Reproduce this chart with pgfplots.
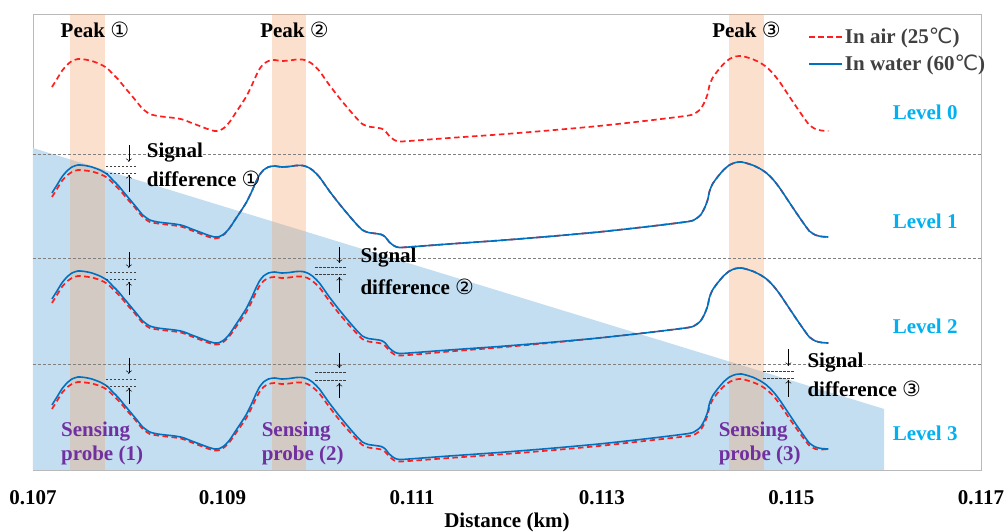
\documentclass[border=0pt]{standalone}
\usepackage{fontspec}
\setmainfont{Liberation Serif}
\newfontfamily\sym{DejaVu Sans}
\usepackage{pgfplots}
\pgfplotsset{compat=1.18}
\usepackage{pgfplotstable}
\usetikzlibrary{arrows.meta}
\definecolor{airred}{RGB}{255,30,30}
\definecolor{waterblue}{RGB}{0,112,192}
\definecolor{regionblue}{RGB}{195,222,240}
\definecolor{bandorange}{RGB}{246,166,115}
\definecolor{levelblue}{RGB}{0,176,240}
\definecolor{probepurple}{RGB}{112,48,160}
\definecolor{legtext}{RGB}{64,64,64}
\newcommand\bigfont{\fontsize{21}{25}\selectfont\bfseries}
\newcommand\symb[1]{{\sym\mdseries #1}}

\pgfplotstableread{
x L0 b1 r1 b2 r2 b3 r3
0.107200 383 277 273 171 167 65 61
0.107253 391 285 281 179 175 73 69
0.107305 399 293 289 187 183 81 77
0.107358 405 299 294.5 193 188.5 87 82.5
0.107411 409 303 298 197 192 91 86
0.107474 411 305 300 199 194 93 88
0.107547 410.5 304.5 299.5 198.5 193.5 92.5 87.5
0.107621 409 303 298.5 197 192.5 91 86.5
0.107705 406 300 296 194 190 88 84
0.107779 402 296 292.5 190 186.5 84 80.5
0.107842 396 290 287 184 181 78 75
0.107895 391 285 282 179 176 73 70
0.107947 385 279 276.5 173 170.5 67 64.5
0.108000 379 273 270.5 167 164.5 61 58.5
0.108053 373 267 265 161 159 55 53
0.108105 367 261 259 155 153 49 47
0.108158 361 255 253 149 147 43 41
0.108232 356 250 248 144 142 38 36
0.108316 354 248 246.5 142 140.5 36 34.5
0.108400 353 247 245.5 141 139.5 35 33.5
0.108495 352 246 244.5 140 138.5 34 32.5
0.108579 350.5 244.5 243 138.5 137 32.5 31
0.108674 347 241 239.5 135 133.5 29 27.5
0.108758 344 238 236.5 132 130.5 26 24.5
0.108842 341 235 233.5 129 127.5 23 21.5
0.108916 339 233 231.5 127 125.5 21 19.5
0.108968 339.5 233.5 232.5 127.5 126 21.5 20
0.109021 342.5 236.5 236 130.5 129 24.5 23
0.109074 348 242 242 136 134 30 28
0.109137 357 251 251 145 142.5 39 36.5
0.109200 366 260 260 154 151 48 45
0.109253 374 268 268 162 158.5 56 52.5
0.109305 384 278 278 172 168 66 62
0.109347 393 287 287 181 176.5 75 70.5
0.109389 401 295 295 189 184 83 78
0.109432 406 300 300 194 189 88 83
0.109484 409 303 303 197 192 91 86
0.109547 410 304 304 198 193 92 87
0.109621 409 303 303 197 192 91 86
0.109705 409.5 303.5 303.5 197.5 192.5 91.5 86.5
0.109779 410.5 304.5 304.5 198.5 193.5 92.5 87.5
0.109842 410.5 304.5 304.5 198.5 193.5 92.5 87.5
0.109895 409 303 303 197 192 91 86
0.109947 406 300 300 194 189 88 83
0.110021 399 293 293 187 182.5 81 76.5
0.110126 385 279 279 173 169 67 63
0.110232 372 266 266 160 156 54 50
0.110337 360 254 254 148 144.5 42 38.5
0.110411 352 246 246 140 137 34 31
0.110474 346 240 240 134 131 28 25
0.110537 343.5 237.5 237.5 131.5 128.5 25.5 22.5
0.110611 342.5 236.5 236.5 130.5 127.5 24.5 21.5
0.110674 341.5 235.5 235.5 129.5 126.5 23.5 20.5
0.110716 339 233 233 127 124 21 18
0.110758 334 228 228 122 119.5 16 13.5
0.110811 330 224 224 118 115.5 12 9.5
0.110863 328.5 222.5 222.5 116.5 114.5 10.5 8.5
0.110968 329 223 223 117 115 11 9
0.111389 332 226 226 120 118.5 14 12
0.111916 335.5 229.5 229.5 123.5 122.5 17.5 15.5
0.112442 339.5 233.5 233.5 127.5 127 21.5 19.5
0.112968 344 238 238 132 132 26 24
0.113495 349.5 243.5 243.5 137.5 137.5 31.5 29.5
0.113916 354.5 248.5 248.5 142.5 142.5 36.5 34
0.113989 357 251 251 145 145 39 36
0.114042 361 255 255 149 149 43 40
0.114084 368 262 262 156 156 50 47
0.114116 376 270 270 164 164 58 55
0.114137 385 279 279 173 173 67 63.5
0.114168 392 286 286 180 180 74 70
0.114221 399 293 293 187 187 81 77
0.114284 406 300 300 194 194 88 83.5
0.114347 411 305 305 199 199 93 88
0.114411 413.5 307.5 307.5 201.5 201.5 95.5 90.5
0.114474 414 308 308 202 202 96 91
0.114537 412.5 306.5 306.5 200.5 200.5 94.5 89.5
0.114600 410.5 304.5 304.5 198.5 198.5 92.5 87.5
0.114674 407 301 301 195 195 89 84.5
0.114737 403 297 297 191 191 85 80.5
0.114811 396 290 290 184 184 78 74
0.114884 387 281 281 175 175 69 65
0.114968 375 269 269 163 163 57 53
0.115053 363 257 257 151 151 45 41.5
0.115126 353 247 247 141 141 35 32
0.115189 345 239 239 133 133 27 24.5
0.115253 341 235 235 129 129 23 21
0.115316 339.5 233.5 233.5 127.5 127.5 21.5 20.5
0.115389 339 233 233 127 127 21 21
}\data

\tikzset{
  air/.style={airred, line width=1.7pt, dash pattern=on 5.5pt off 3.5pt},
  water/.style={waterblue, line width=1.6pt},
  sep/.style={gray, line width=0.6pt, dash pattern=on 3pt off 2pt},
  mark line/.style={black!75, line width=0.5pt, dash pattern=on 2.5pt off 1.5pt},
  arr/.style={black, line width=0.5pt, -{To[length=3.5pt,width=6pt]}},
}

\begin{document}
\begin{tikzpicture}
\begin{axis}[
  width=948pt, height=456pt, scale only axis,
  xmin=0.107, xmax=0.117, ymin=0, ymax=456,
  xtick={0.107,0.109,0.111,0.113,0.115,0.117},
  xticklabels={0.107,0.109,0.111,0.113,0.115,0.117},
  ytick=\empty,
  xtick pos=bottom, tick align=inside, major tick length=5pt,
  tick style={gray!70, line width=0.6pt},
  axis line style={gray!55, line width=0.8pt},
  xticklabel style={font=\bigfont, yshift=-17pt},
  xlabel={Distance (km)},
  xlabel style={font=\bigfont, yshift=-1pt},
  clip=false,
  legend style={draw=none, fill=none, at={(0.8165,0.976)}, anchor=north west,
    font=\bigfont, text=legtext, row sep=6pt, inner sep=1pt},
  legend cell align=left,
  legend image code/.code={\draw[#1] (0pt,0pt) -- (27pt,0pt); \path (0pt,0pt) -- (33pt,0pt);},
]
% background regions
\addplot[draw=none, fill=regionblue, forget plot]
  coordinates {(0.107,322) (0.115979,61) (0.115979,0) (0.107,0)} -- cycle;
\addplot[draw=none, fill=bandorange, fill opacity=0.35, forget plot]
  coordinates {(0.107389,0) (0.107389,456) (0.107758,456) (0.107758,0)} -- cycle;
\addplot[draw=none, fill=bandorange, fill opacity=0.35, forget plot]
  coordinates {(0.109516,0) (0.109516,456) (0.109884,456) (0.109884,0)} -- cycle;
\addplot[draw=none, fill=bandorange, fill opacity=0.35, forget plot]
  coordinates {(0.114337,0) (0.114337,456) (0.114716,456) (0.114716,0)} -- cycle;
% level separators
\addplot[sep, forget plot] coordinates {(0.107,316) (0.117,316)};
\addplot[sep, forget plot] coordinates {(0.107,212) (0.117,212)};
\addplot[sep, forget plot] coordinates {(0.107,106) (0.117,106)};
% curves
\addplot[air, smooth, tension=0.4, forget plot] table[x=x,y=L0] {\data};
\addplot[air, smooth, tension=0.4, forget plot] table[x=x,y=r1] {\data};
\addplot[water, smooth, tension=0.4, forget plot] table[x=x,y=b1] {\data};
\addplot[air, smooth, tension=0.4, forget plot] table[x=x,y=r2] {\data};
\addplot[water, smooth, tension=0.4, forget plot] table[x=x,y=b2] {\data};
\addplot[air, smooth, tension=0.4, forget plot] table[x=x,y=r3] {\data};
\addplot[water, smooth, tension=0.4, forget plot] table[x=x,y=b3] {\data};
\addlegendimage{air}
\addlegendentry{In air (25\symb{℃})}
\addlegendimage{water}
\addlegendentry{In water (60\symb{℃})}

% signal difference markers
% level 1, peak 1
\draw[mark line] (axis cs:0.107768,304) -- (axis cs:0.108095,304);
\draw[mark line] (axis cs:0.107768,297) -- (axis cs:0.108095,297);
\draw[arr] (axis cs:0.108011,325) -- (axis cs:0.108011,308);
\draw[arr] (axis cs:0.108011,278) -- (axis cs:0.108011,295);
% level 2, peak 1
\draw[mark line] (axis cs:0.107768,198) -- (axis cs:0.108095,198);
\draw[mark line] (axis cs:0.107768,191) -- (axis cs:0.108095,191);
\draw[arr] (axis cs:0.108011,218) -- (axis cs:0.108011,202);
\draw[arr] (axis cs:0.108011,175) -- (axis cs:0.108011,188);
% level 2, peak 2
\draw[mark line] (axis cs:0.109979,203) -- (axis cs:0.110316,203);
\draw[mark line] (axis cs:0.109979,196) -- (axis cs:0.110316,196);
\draw[arr] (axis cs:0.110232,223) -- (axis cs:0.110232,207);
\draw[arr] (axis cs:0.110232,177) -- (axis cs:0.110232,193);
% level 3, peak 1
\draw[mark line] (axis cs:0.107768,91) -- (axis cs:0.108095,91);
\draw[mark line] (axis cs:0.107768,84) -- (axis cs:0.108095,84);
\draw[arr] (axis cs:0.108011,112) -- (axis cs:0.108011,96);
\draw[arr] (axis cs:0.108011,66) -- (axis cs:0.108011,82);
% level 3, peak 2
\draw[mark line] (axis cs:0.109979,98) -- (axis cs:0.110316,98);
\draw[mark line] (axis cs:0.109979,90) -- (axis cs:0.110316,90);
\draw[arr] (axis cs:0.110232,117) -- (axis cs:0.110232,102);
\draw[arr] (axis cs:0.110232,72) -- (axis cs:0.110232,87);
% level 3, peak 3
\draw[mark line] (axis cs:0.114705,99) -- (axis cs:0.115042,99);
\draw[mark line] (axis cs:0.114705,92) -- (axis cs:0.115042,92);
\draw[arr] (axis cs:0.114968,121) -- (axis cs:0.114968,104);
\draw[arr] (axis cs:0.114968,73) -- (axis cs:0.114968,90);

% texts
\node[font=\bigfont] at (axis cs:0.107653,440) {Peak \symb{①}};
\node[font=\bigfont] at (axis cs:0.109758,440) {Peak \symb{②}};
\node[font=\bigfont] at (axis cs:0.114526,440) {Peak \symb{③}};

\node[font=\bigfont, anchor=west, inner sep=0pt] at (axis cs:0.108200,317) {Signal};
\node[font=\bigfont, anchor=west, inner sep=0pt] at (axis cs:0.108200,291) {difference \symb{①}};
\node[font=\bigfont, anchor=west, inner sep=0pt] at (axis cs:0.110453,212) {Signal};
\node[font=\bigfont, anchor=west, inner sep=0pt] at (axis cs:0.110453,183) {difference \symb{②}};
\node[font=\bigfont, anchor=west, inner sep=0pt] at (axis cs:0.115168,107) {Signal};
\node[font=\bigfont, anchor=west, inner sep=0pt] at (axis cs:0.115168,81) {difference \symb{③}};

\node[font=\bigfont, text=levelblue] at (axis cs:0.116411,358) {Level 0};
\node[font=\bigfont, text=levelblue] at (axis cs:0.116411,249) {Level 1};
\node[font=\bigfont, text=levelblue] at (axis cs:0.116411,144) {Level 2};
\node[font=\bigfont, text=levelblue] at (axis cs:0.116411,37) {Level 3};

\node[font=\bigfont, text=probepurple, anchor=west, inner sep=0pt] at (axis cs:0.107295,38) {Sensing};
\node[font=\bigfont, text=probepurple, anchor=west, inner sep=0pt] at (axis cs:0.107295,15) {probe (1)};
\node[font=\bigfont, text=probepurple, anchor=west, inner sep=0pt] at (axis cs:0.109411,38) {Sensing};
\node[font=\bigfont, text=probepurple, anchor=west, inner sep=0pt] at (axis cs:0.109411,15) {probe (2)};
\node[font=\bigfont, text=probepurple, anchor=west, inner sep=0pt] at (axis cs:0.114232,38) {Sensing};
\node[font=\bigfont, text=probepurple, anchor=west, inner sep=0pt] at (axis cs:0.114232,15) {probe (3)};
\end{axis}
\pgfresetboundingbox
\path ([shift={(-33pt,-62pt)}]current axis.south west) rectangle ([shift={(25pt,14pt)}]current axis.north east);
\end{tikzpicture}
\end{document}
